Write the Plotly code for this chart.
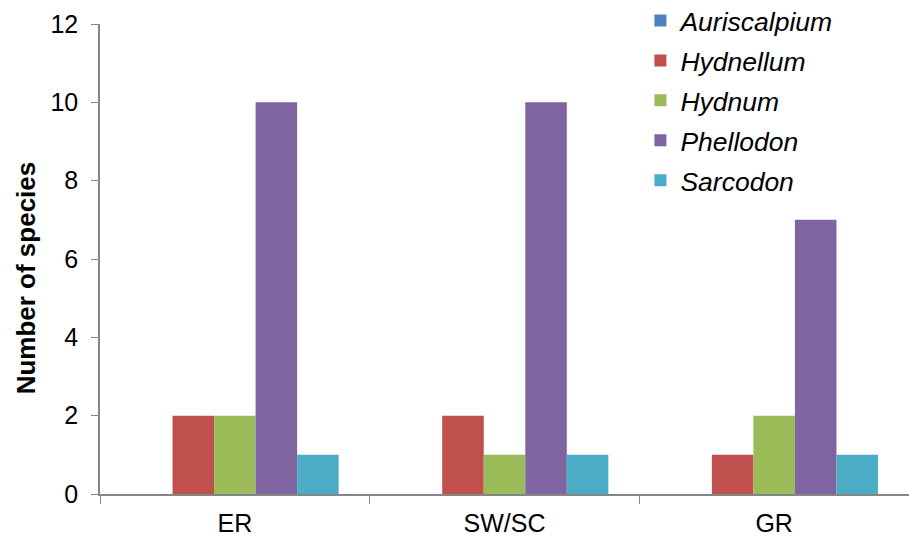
import plotly.graph_objects as go

# Sampling regions and genera
regions = ["ER", "SW/SC", "GR"]
genera = ["Auriscalpium", "Hydnellum", "Hydnum", "Phellodon", "Sarcodon"]

auriscalpium = [0, 0, 0]
hydnellum = [2, 2, 1]
hydnum = [2, 1, 2]
phellodon = [10, 10, 7]
sarcodon = [1, 1, 1]

series = [auriscalpium, hydnellum, hydnum, phellodon, sarcodon]
colors = ["#4F81BD", "#C0504D", "#9BBB59", "#8064A2", "#4BACC6"]

y_ticks = [0, 2, 4, 6, 8, 10, 12]

FONT = "Liberation Sans, Arial, sans-serif"

fig = go.Figure()
for name, vals, col in zip(genera, series, colors):
    fig.add_trace(go.Bar(
        x=regions, y=vals, name=name, legendgroup=name,
        marker=dict(color=col, line=dict(width=0)),
    ))

fig.update_layout(
    width=909, height=543,
    margin=dict(l=100, r=0, t=24, b=49, autoexpand=False),
    paper_bgcolor="white", plot_bgcolor="white",
    barmode="group", bargap=0.23, bargroupgap=0,
    font=dict(family=FONT, size=25, color="#000000"),
    legend=dict(
        x=0.668, y=1.058, xanchor="left", yanchor="top",
        xref="paper", yref="paper",
        font=dict(family=FONT, size=26.5, style="italic"),
        tracegroupgap=2.5, bgcolor="rgba(0,0,0,0)",
        itemclick=False,
    ),
    showlegend=True,
)

# Y-axis title placed as a rotated annotation
fig.add_annotation(
    text="<b>Number of species</b>", textangle=-90,
    xref="paper", yref="paper", x=-0.092, y=0.46,
    xanchor="center", yanchor="middle", showarrow=False,
    font=dict(family=FONT, size=26, color="#000000"),
)

fig.update_xaxes(
    type="category",
    showline=True, linecolor="#868686", linewidth=1.5,
    ticks="outside", tickson="boundaries", ticklen=8, tickcolor="#868686",
    showgrid=False, zeroline=False,
    tickfont=dict(family=FONT, size=25),
    ticklabelstandoff=6,
)
fig.update_yaxes(
    range=[0, 12], tickvals=y_ticks,
    showline=True, linecolor="#868686", linewidth=1.5,
    ticks="outside", ticklen=7, tickcolor="#868686",
    showgrid=False, zeroline=False,
    tickfont=dict(family=FONT, size=25),
    ticklabelstandoff=8,
)

fig.write_html("out.html")
